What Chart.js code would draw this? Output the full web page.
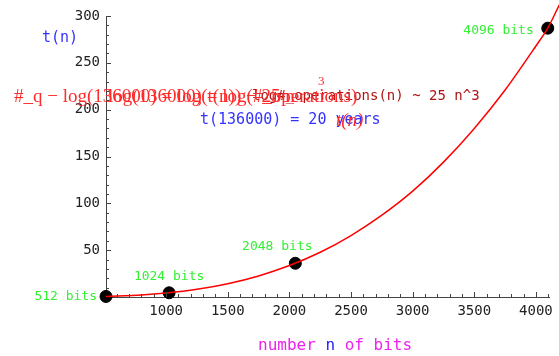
<!DOCTYPE html>
<html>
<head>
<meta charset="utf-8">
<script src="https://cdn.jsdelivr.net/npm/chart.js@4.4.1/dist/chart.umd.min.js"></script>
<style>
  html, body { margin: 0; padding: 0; background: #fff; }
  #wrap { width: 559px; height: 356px; }
</style>
</head>
<body>
<div id="wrap"><canvas id="timeChart"></canvas></div>
<script>
// key sizes and their times
const keyBits = [512, 1024, 2048, 4096];
const keyTimes = [0.6, 4.5, 36, 287];
const keyLabels = ["512 bits", "1024 bits", "2048 bits", "4096 bits"];

// red fitted curve
const curveBits = [512, 800, 1000, 1250, 1500, 1750, 2000, 2250, 2500, 2750, 3000, 3250, 3500, 3750, 4000, 4096, 4190];
const curveTimes = [0.6, 2.1, 4.2, 8.2, 14.2, 22.5, 33.6, 47.8, 65.6, 87.3, 113, 144, 180, 221, 268, 287, 312];

const xTickValues = [1000, 1500, 2000, 2500, 3000, 3500, 4000];
const yTickValues = [50, 100, 150, 200, 250, 300];

const labelOffsets = [[-9, 0, "right"], [0, -16, "center"], [-18, -17, "center"], [-14, 2, "right"]];

const mono = "'DejaVu Sans Mono', monospace";

const mathTicks = {
  id: "mathTicks",
  afterDraw(chart) {
    const ctx = chart.ctx;
    const x = chart.scales.x, y = chart.scales.y;
    const x0 = x.getPixelForValue(512), y0 = y.getPixelForValue(0);
    ctx.save();
    ctx.strokeStyle = "#444";
    ctx.lineWidth = 1;
    ctx.beginPath();
    for (let v = 10; v <= 300; v += 10) {
      const py = Math.round(y.getPixelForValue(v)) + 0.5;
      const len = v % 50 === 0 ? 5 : 3;
      ctx.moveTo(x0, py); ctx.lineTo(x0 + len, py);
    }
    for (let v = 600; v <= 4100; v += 100) {
      const px = Math.round(x.getPixelForValue(v)) + 0.5;
      const len = v % 500 === 0 ? 5 : 3;
      ctx.moveTo(px, y0); ctx.lineTo(px, y0 - len);
    }
    ctx.stroke();
    ctx.restore();
  },
};

const annotations = {
  id: "annotations",
  afterDatasetsDraw(chart) {
    const ctx = chart.ctx;
    const pts = chart.getDatasetMeta(1).data;
    ctx.save();
    ctx.textBaseline = "middle";
    // point labels
    ctx.font = "13px " + mono;
    ctx.fillStyle = "#33f033";
    pts.forEach((p, i) => {
      const [dx, dy, align] = labelOffsets[i];
      ctx.textAlign = align;
      ctx.fillText(keyLabels[i], p.x + dx, p.y + dy);
    });

    // axis titles
    ctx.textAlign = "left";
    ctx.font = "15px " + mono;
    ctx.fillStyle = "#3333ff";
    ctx.fillText("t(n)", 42, 38);

    ctx.font = "16px " + mono;
    let tx = 258;
    [["number ", "#ee22ee"], ["n", "#2222ff"], [" of bits", "#ee22ee"]].forEach(([s, c]) => {
      ctx.fillStyle = c;
      ctx.fillText(s, tx, 346);
      tx += ctx.measureText(s).width;
    });

    // overlapping formula texts
    ctx.font = "14px " + mono;
    ctx.fillStyle = "#b01515";
    ctx.fillText("log#_operations(n) ~ 25 n^3", 252, 96);

    ctx.font = "19px 'Liberation Serif', serif";
    ctx.fillStyle = "#ff2a2a";
    ctx.fillText("#_q \u2212 log(136000) = log(t(n)) \u2212 25 n", 14, 97);
    ctx.fillText("log(136000) = log(#_operations)", 108, 97);
    ctx.font = "13px 'Liberation Serif', serif";
    ctx.fillText("3", 318, 82);

    ctx.font = "15px " + mono;
    ctx.fillStyle = "#3333ff";
    ctx.fillText("t(136000) = 20 years", 200, 120);
    ctx.font = "italic 19px 'Liberation Serif', serif";
    ctx.fillStyle = "#ff2a2a";
    ctx.fillText("t(n)", 336, 121);
    ctx.restore();
  },
};

new Chart(document.getElementById("timeChart"), {
  type: "line",
  data: {
    datasets: [
      {
        data: curveBits.map((b, i) => ({ x: b, y: curveTimes[i] })),
        borderColor: "#ff0000",
        borderWidth: 1.5,
        pointRadius: 0,
        cubicInterpolationMode: "monotone",
        clip: false,
      },
      {
        data: keyBits.map((b, i) => ({ x: b, y: keyTimes[i] })),
        showLine: false,
        pointRadius: 6,
        pointBackgroundColor: "#000",
        pointBorderColor: "#000",
        clip: false,
      },
    ],
  },
  options: {
    responsive: true,
    maintainAspectRatio: false,
    animation: false,
    layout: { padding: { top: 16, right: 0, left: 0, bottom: 0 } },
    plugins: { legend: { display: false }, tooltip: { enabled: false } },
    scales: {
      x: {
        type: "linear",
        min: 512,
        max: 4110,
        afterFit: (s) => { s.height = 59; },
        afterBuildTicks: (s) => { s.ticks = xTickValues.map((v) => ({ value: v })); },
        border: { display: true, color: "#444", width: 1 },
        grid: { display: false, drawTicks: false },
        ticks: {
          padding: 6,
          color: "#222",
          font: { family: mono, size: 14 },
          maxRotation: 0,
          autoSkip: false,
          callback: (v) => String(v),
        },
      },
      y: {
        min: 0,
        max: 300,
        afterFit: (s) => { s.width = 106; },
        afterBuildTicks: (s) => { s.ticks = yTickValues.map((v) => ({ value: v })); },
        border: { display: true, color: "#444", width: 1 },
        grid: { display: false, drawTicks: false },
        ticks: {
          autoSkip: false,
          padding: 6,
          color: "#222",
          font: { family: mono, size: 14 },
          callback: (v) => String(v),
        },
      },
    },
  },
  plugins: [mathTicks, annotations],
});
</script>
</body>
</html>
